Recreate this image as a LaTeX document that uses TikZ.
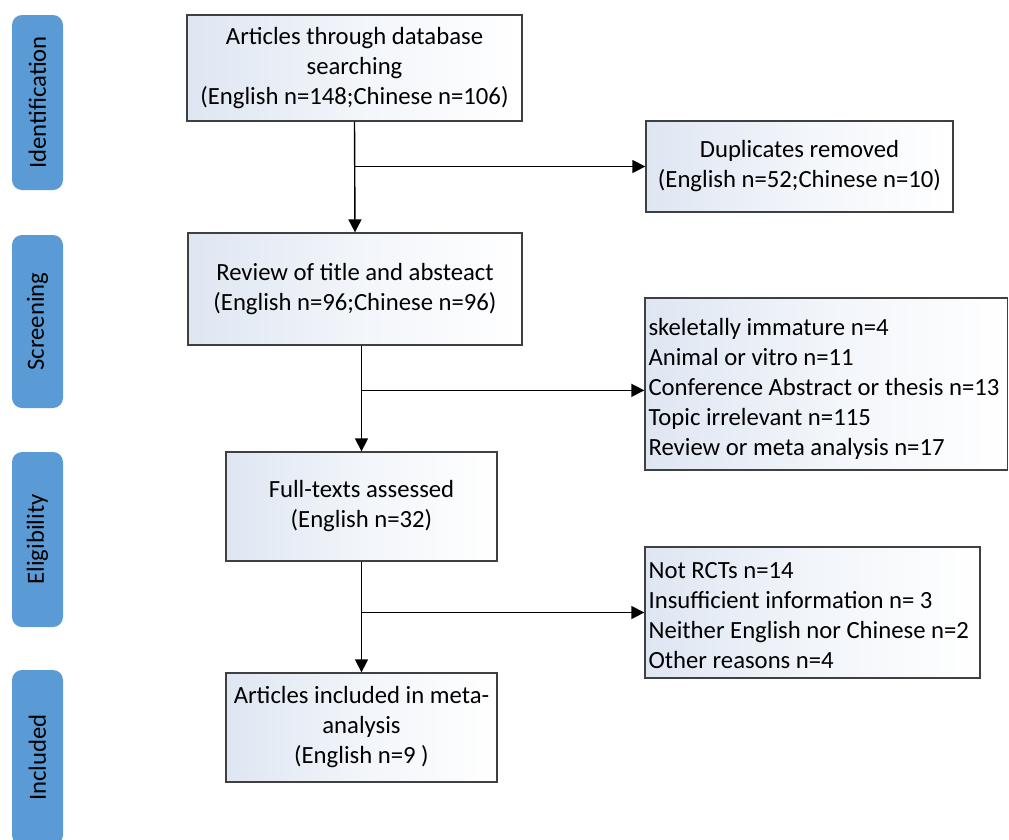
\documentclass[tikz,border=0pt]{standalone}
\usepackage{fontspec}
\setmainfont{Carlito}
\usetikzlibrary{arrows.meta,calc}
\definecolor{barblue}{RGB}{91,155,213}
\definecolor{boxline}{RGB}{64,64,64}
\definecolor{boxtint}{RGB}{222,230,242}
\begin{document}
\begin{tikzpicture}[x=1pt,y=-1pt,
  every node/.style={font=\fontsize{24.7}{30}\selectfont},
  phase/.style={fill=barblue, rounded corners=10pt, rotate=90,
    minimum width=175pt, minimum height=51pt, inner sep=0pt},
  box/.style={draw=boxline, line width=1.3pt, left color=boxtint, right color=white,
    middle color=white!60!boxtint, inner sep=0pt, align=center},
  listtext/.style={anchor=west, align=left, inner sep=0pt},
  arr/.style={line width=1.4pt, -{Triangle[length=13pt,width=13pt]}}]
\useasboundingbox (0,0) rectangle (1009,839);
\clip (0,0) rectangle (1009,839);
% phase bars
\node[phase] (p1) at (37.5,102.5) {Identification};
\node[phase, minimum width=173pt] (p2) at (37.5,321.5) {Screening};
\node[phase] (p3) at (37.5,539.5) {Eligibility};
\node[phase] (p4) at (37.5,757.5) {Included};
% boxes
\node[box, minimum width=335pt, minimum height=106pt] (b1) at (354.5,68)
  {Articles through database\\searching\\(English n=148;Chinese n=106)};
\node[box, minimum width=307pt, minimum height=91pt] (b3) at (799.5,166.5)
  {Duplicates removed\\(English n=52;Chinese n=10)};
\node[box, minimum width=334pt, minimum height=112pt] (b2) at (355,289)
  {Review of title and absteact\\(English n=96;Chinese n=96)};
\node[box, minimum width=362.5pt, minimum height=172pt] (b4) at (826.25,384) {};
\node[listtext] (t4) at ($(b4.west)+(4,5)$)
  {skeletally immature n=4\\Animal or vitro n=11\\Conference Abstract or thesis n=13\\Topic irrelevant n=115\\Review or meta analysis n=17};
\node[box, minimum width=271pt, minimum height=109pt] (b5) at (361.5,506.5)
  {Full-texts assessed\\(English n=32)};
\node[box, minimum width=335pt, minimum height=131pt] (b6) at (812.5,612.5) {};
\node[listtext] (t6) at ($(b6.west)+(4,3.5)$)
  {Not RCTs n=14\\Insufficient information n= 3\\Neither English nor Chinese n=2\\Other reasons n=4};
\node[box, minimum width=271pt, minimum height=109pt] (b7) at (361.5,727.5)
  {Articles included in meta-\\analysis\\(English n=9 )};
% connectors
\draw[arr] (b1.south) -- (b2.north);
\coordinate (j1) at (b1.south |- b3.west);
\draw[arr] (j1) -- (b3.west);
\draw[arr] (b2.south -| b5.north) -- (b5.north);
\coordinate (j2) at ($(b5.north)+(0,-61)$);
\draw[arr] (j2) -- (j2 -| b4.west);
\draw[arr] (b5.south) -- (b7.north);
\coordinate (j3) at (b5.south |- b6.west);
\draw[arr] (j3) -- (b6.west);
\end{tikzpicture}
\end{document}
